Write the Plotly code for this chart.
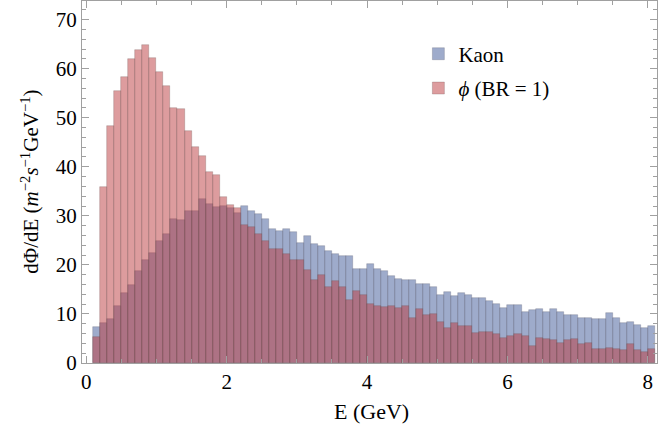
import numpy as np
import plotly.graph_objects as go

# Histogram bins: 80 bins of width 0.1 GeV starting at 0.1 GeV
bin_start = 0.1
bin_width = 0.1

kaon = [7.4, 8.2, 8.9, 11.6, 14.2, 16.0, 18.7, 21.0, 22.5, 24.8,
        26.2, 29.3, 29.2, 30.9, 31.0, 33.4, 32.4, 31.8, 32.0, 31.6,
        30.6, 32.1, 31.0, 30.3, 29.3, 27.4, 26.9, 27.3, 26.7, 24.4,
        25.9, 24.2, 23.9, 22.8, 22.2, 21.8, 21.8, 19.1, 19.2, 20.1,
        19.1, 18.7, 17.8, 17.2, 17.0, 16.9, 16.1, 16.1, 15.5, 13.9,
        14.4, 13.7, 14.2, 13.8, 13.3, 13.3, 12.6, 12.1, 11.3, 11.8,
        11.8, 10.5, 10.8, 11.1, 10.3, 11.0, 10.5, 9.7, 9.8, 9.2,
        9.2, 8.9, 9.0, 10.1, 9.1, 8.2, 8.4, 7.7, 7.2, 7.6]

phi = [5.3, 35.8, 48.3, 55.5, 58.4, 62.0, 63.9, 64.8, 62.2, 59.3,
       56.4, 52.0, 51.8, 47.2, 44.1, 42.1, 38.9, 38.3, 33.9, 32.2,
       31.5, 28.2, 27.8, 26.4, 24.8, 23.3, 23.2, 22.2, 21.0, 21.0,
       18.9, 16.9, 17.9, 15.5, 16.7, 15.5, 12.8, 14.6, 13.8, 12.0,
       11.6, 11.4, 11.6, 11.3, 11.7, 9.1, 11.1, 9.7, 9.9, 8.4,
       7.1, 8.1, 7.5, 7.6, 6.1, 6.3, 6.3, 6.0, 5.1, 5.6,
       6.0, 5.5, 3.5, 5.0, 4.8, 4.6, 4.0, 4.6, 4.8, 3.9,
       4.1, 2.8, 2.9, 3.1, 2.9, 2.6, 3.9, 2.7, 2.2, 2.9]

x_ticks = [0, 2, 4, 6, 8]
y_ticks = [0, 10, 20, 30, 40, 50, 60, 70]

centers = bin_start + bin_width * (np.arange(len(kaon)) + 0.5)

FONT = "Liberation Serif"
AX = "#a0a0a0"

fig = go.Figure()
fig.add_trace(go.Bar(
    x=centers, y=kaon, width=bin_width, name="Kaon", legendgroup="k",
    marker=dict(color="rgba(62,88,152,0.5)",
                line=dict(color="rgba(90,90,110,0.45)", width=0.6)),
))
fig.add_trace(go.Bar(
    x=centers, y=phi, width=bin_width, name="<i>ϕ</i> (BR = 1)", legendgroup="p",
    marker=dict(color="rgba(188,58,62,0.5)",
                line=dict(color="rgba(110,80,80,0.45)", width=0.6)),
))

fig.update_layout(
    width=665, height=436,
    margin=dict(l=82, r=8, t=1, b=73, autoexpand=False),
    barmode="overlay", bargap=0,
    plot_bgcolor="white", paper_bgcolor="white",
    font=dict(family=FONT, size=21, color="black"),
    showlegend=True,
    legend=dict(x=0.585, y=0.91, xanchor="left", yanchor="top",
                bgcolor="rgba(0,0,0,0)", font=dict(size=21),
                traceorder="grouped", itemwidth=30, tracegroupgap=4),
    annotations=[
        dict(text="E (GeV)", xref="paper", yref="paper", x=0.504, y=-0.133,
             xanchor="center", yanchor="middle", showarrow=False,
             font=dict(size=22)),
        dict(text="dΦ/dE (<i>m</i><sup>−2</sup><i>s</i><sup>−1</sup>GeV<sup>−1</sup>)",
             xref="paper", yref="paper", x=-0.091, y=0.5, textangle=-90,
             xanchor="center", yanchor="middle", showarrow=False,
             font=dict(size=21)),
    ],
)
fig.update_xaxes(
    range=[-0.06, 8.13], tickvals=x_ticks, ticktext=[str(v) for v in x_ticks],
    automargin=False,
    showgrid=False, zeroline=False,
    showline=True, linecolor=AX, linewidth=1, mirror="allticks",
    ticks="inside", ticklen=7, tickcolor=AX, tickwidth=1,
    minor=dict(dtick=0.5, tick0=0, ticks="inside", ticklen=4, tickcolor=AX, tickwidth=1),
    ticklabelstandoff=0,
)
fig.update_yaxes(
    range=[0, 73.8], tickvals=y_ticks, ticktext=[str(v) for v in y_ticks],
    automargin=False,
    showgrid=False, zeroline=False,
    showline=True, linecolor=AX, linewidth=1, mirror="allticks",
    ticks="inside", ticklen=7, tickcolor=AX, tickwidth=1,
    minor=dict(dtick=2, tick0=0, ticks="inside", ticklen=4, tickcolor=AX, tickwidth=1),
    ticklabelstandoff=0,
)

fig.write_html("out.html", config={"displayModeBar": False},
               post_script="document.body.style.margin='0';")
